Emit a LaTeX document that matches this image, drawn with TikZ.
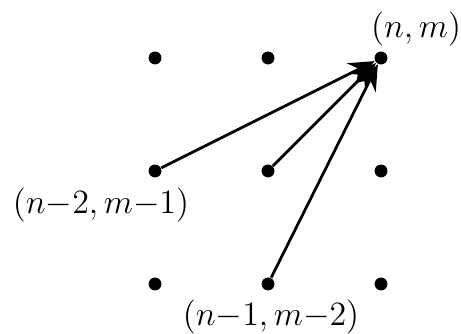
\documentclass[tikz,border=0pt]{standalone}
\usepackage{amsmath}
\usepackage{tikz}
\usetikzlibrary{arrows.meta,positioning,calc}

\begin{document}
\begin{tikzpicture}[
  x=1.4cm,y=1.4cm,
  font=\fontsize{11.6}{14}\selectfont,
  dot/.style={circle,fill=black,inner sep=0pt,minimum size=1.6mm},
  lbl/.style={inner sep=1pt},
  arr/.style={-{Stealth[length=3.2mm,width=2.6mm]},line width=1pt}
]
\useasboundingbox (-1.372,-0.442) rectangle (2.708,2.513);
% lattice points
\foreach \i in {0,1,2}
  \foreach \j in {0,1,2}
    \node[dot] (p\i\j) at (\i,\j) {};
% labels
\node[lbl] (lnm) at ($(p22)+(0.31,0.257)$) {$(n,m)$};
\node[lbl] (lnm21) at ($(p01)+(-0.478,-0.301)$) {$(n{-}2,m{-}1)$};
\node[lbl] (lnm12) at ($(p10)+(0.027,-0.292)$) {$(n{-}1,m{-}2)$};
% steps
\draw[arr] (p01) -- (p22);
\draw[arr] (p11) -- (p22);
\draw[arr] (p10) -- (p22);
\end{tikzpicture}
\end{document}
